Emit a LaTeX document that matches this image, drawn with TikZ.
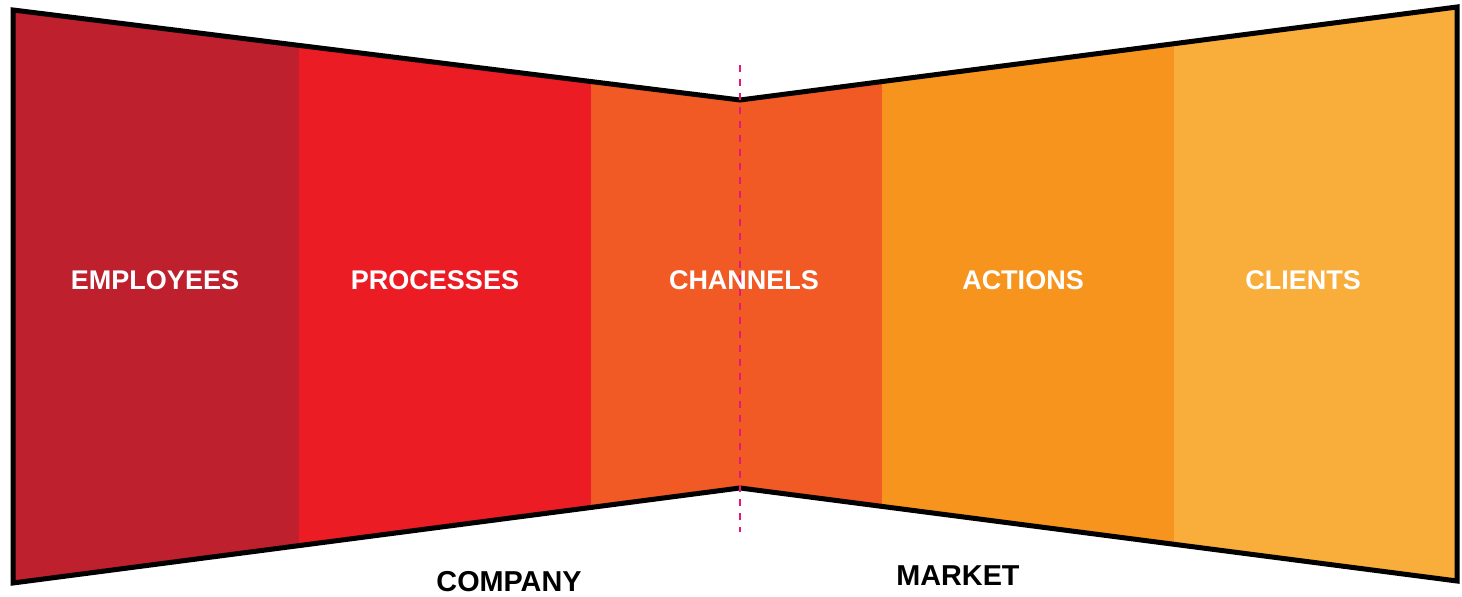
\documentclass[tikz,border=0pt]{standalone}
\usepackage{fontspec}
\setmainfont{Liberation Sans}
\definecolor{employees}{HTML}{BE202E}
\definecolor{processes}{HTML}{EC1C24}
\definecolor{channels}{HTML}{F15A24}
\definecolor{actions}{HTML}{F7941D}
\definecolor{clients}{HTML}{F9AD3B}
\definecolor{divider}{HTML}{E4177F}
\tikzset{
  band/.style={white, font=\bfseries\fontsize{13.5}{15}\selectfont},
  side/.style={black, inner sep=0pt, font=\bfseries\fontsize{14.4}{16}\selectfont},
}
\begin{document}
\begin{tikzpicture}[x=0.5pt, y=-0.5pt]
      \useasboundingbox (0,0) rectangle (1462,597);
      %
      \coordinate (tl) at (13,10);
      \coordinate (tm) at (740,100);
      \coordinate (tr) at (1457,7);
      \coordinate (bl) at (13,583);
      \coordinate (bm) at (740,488);
      \coordinate (br) at (1457,581);
      %
      \begin{scope}
        \clip (tl) -- (tm) -- (tr) -- (br) -- (bm) -- (bl) -- cycle;
        \fill[employees] (0,0) rectangle (299,597);
        \fill[processes] (299,0) rectangle (591,597);
        \fill[channels] (591,0) rectangle (882,597);
        \fill[actions] (882,0) rectangle (1174,597);
        \fill[clients] (1174,0) rectangle (1462,597);
      \end{scope}
      %
      \draw[line width=2.5pt, line join=miter]
        (tl) -- (tm) -- (tr) -- (br) -- (bm) -- (bl) -- cycle;
      %
      \coordinate (cuttop) at (740,65);
      \coordinate (cutbot) at (740,532);
      \draw[divider, line width=1.1pt, dash pattern=on 3.5pt off 3.5pt] (cuttop) -- (cutbot);
      %
      \node[band] (employees) at (155,280) {EMPLOYEES};
      \node[band] (processes) at (435,280) {PROCESSES};
      \node[band] (channels) at (744,280) {CHANNELS};
      \node[band] (actions) at (1023,280) {ACTIONS};
      \node[band] (clients) at (1303,280) {CLIENTS};
      %
      \node[side] (company) at (509,582) {COMPANY};
      \node[side] (market) at (958,576) {MARKET};
      %
    \end{tikzpicture}
\end{document}
